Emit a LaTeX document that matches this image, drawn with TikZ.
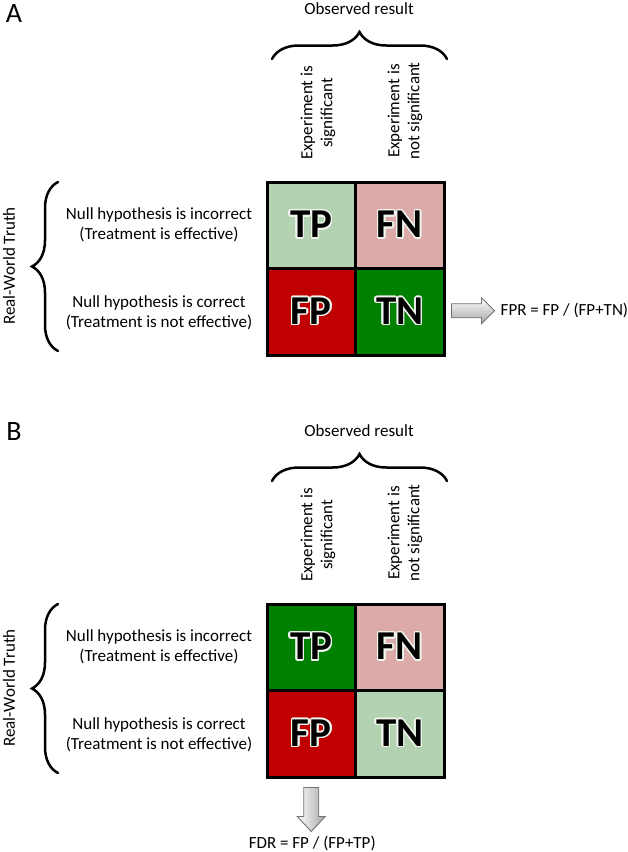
\documentclass[tikz,border=0pt]{standalone}
\usepackage{fontspec}
\setmainfont{Carlito}
\usepackage{contour}
\contourlength{1.4pt}
\contournumber{16}
\usetikzlibrary{decorations.pathreplacing,shadows,calc}
\definecolor{lgreen}{RGB}{178,210,177}
\definecolor{lpink}{RGB}{221,170,170}
\definecolor{dred}{RGB}{192,0,0}
\definecolor{dgreen}{RGB}{0,128,0}
\definecolor{glowc}{RGB}{240,245,238}
\tikzset{
  txt/.style={font=\fontsize{17}{20}\selectfont, align=center, inner sep=0pt},
  vtxt/.style={txt, rotate=90, anchor=west},
  cell/.style={draw=black, line width=3pt, minimum width=88.5pt, minimum height=86.5pt,
    inner sep=0pt, font=\fontsize{41}{41}\selectfont\bfseries, text=black,
    drop shadow={shadow xshift=2pt, shadow yshift=-2pt, opacity=0.35}},
  curly/.style={decorate, decoration={brace, amplitude=27pt}, line width=2.5pt, line cap=round},
  panellabel/.style={font=\fontsize{28}{30}\selectfont, inner sep=0pt},
  blockarrow/.style={draw=black!55, line width=0.9pt, line join=miter},
}
\newcommand\glowtxt[1]{\contour{glowc}{#1}}
\begin{document}
\begin{tikzpicture}[x=1pt,y=-1pt]
\useasboundingbox (0,0) rectangle (628,852);

% ---------------- Panel A ----------------
\node[panellabel] (labA) at (14,14) {A};
\node[txt] (obsA) at (359,9) {Observed result};
\coordinate (bAl) at (272,59);
\coordinate (bAr) at (447,59);
\draw[curly] (bAl) -- (bAr);
\node[vtxt] (sigA) at (318,160) {Experiment is\\significant};
\node[vtxt] (nsigA) at (405,160) {Experiment is\\not significant};

\node[cell, fill=lgreen] (tpA) at (311.25,225.25) {\glowtxt{TP}};
\node[cell, fill=lpink]  (fnA) at (399.75,225.25) {\glowtxt{FN}};
\node[cell, fill=dred]   (fpA) at (311.25,311.75) {\glowtxt{FP}};
\node[cell, fill=dgreen] (tnA) at (399.75,311.75) {\glowtxt{TN}};

\coordinate (lbAb) at (58,351);
\coordinate (lbAt) at (58,182);
\draw[curly, decoration={amplitude=26pt}] (lbAb) -- (lbAt);
\node[txt, rotate=90] (rwA) at (9,266) {Real-World Truth};
\node[txt] (h1A) at (159,225) {Null hypothesis is incorrect\\(Treatment is effective)};
\node[txt] (h0A) at (159,313) {Null hypothesis is correct\\(Treatment is not effective)};

\coordinate (arAs) at ($(tnA.east)+(6,-1)$);
\draw[blockarrow, top color=white, bottom color=black!35]
  (arAs) ++(0,-7) -- ++(30,0) -- ++(0,-6) -- ++(13,13) -- ++(-13,13) -- ++(0,-6) -- ++(-30,0) -- cycle;
\node[txt, anchor=west] (fprA) at ($(arAs)+(49,0)$) {FPR = FP / (FP+TN)};

% ---------------- Panel B ----------------
\node[panellabel] (labB) at (14,432) {B};
\node[txt] (obsB) at (359,431) {Observed result};
\coordinate (bBl) at (272,481);
\coordinate (bBr) at (447,481);
\draw[curly] (bBl) -- (bBr);
\node[vtxt] (sigB) at (318,582) {Experiment is\\significant};
\node[vtxt] (nsigB) at (405,582) {Experiment is\\not significant};

\node[cell, fill=dgreen] (tpB) at (311.25,647.25) {\glowtxt{TP}};
\node[cell, fill=lpink]  (fnB) at (399.75,647.25) {\glowtxt{FN}};
\node[cell, fill=dred]   (fpB) at (311.25,733.75) {\glowtxt{FP}};
\node[cell, fill=lgreen] (tnB) at (399.75,733.75) {\glowtxt{TN}};

\coordinate (lbBb) at (58,773);
\coordinate (lbBt) at (58,604);
\draw[curly, decoration={amplitude=26pt}] (lbBb) -- (lbBt);
\node[txt, rotate=90] (rwB) at (9,688) {Real-World Truth};
\node[txt] (h1B) at (159,647) {Null hypothesis is incorrect\\(Treatment is effective)};
\node[txt] (h0B) at (159,735) {Null hypothesis is correct\\(Treatment is not effective)};

\coordinate (arBs) at ($(fpB.south)+(0,9)$);
\draw[blockarrow, left color=white, right color=black!35]
  (arBs) ++(-7.5,0) -- ++(15,0) -- ++(0,29) -- ++(6.5,0) -- ++(-14,15) -- ++(-14,-15) -- ++(6.5,0) -- cycle;
\node[txt] (fdrB) at ($(arBs)+(1,56)$) {FDR = FP / (FP+TP)};
\end{tikzpicture}
\end{document}
